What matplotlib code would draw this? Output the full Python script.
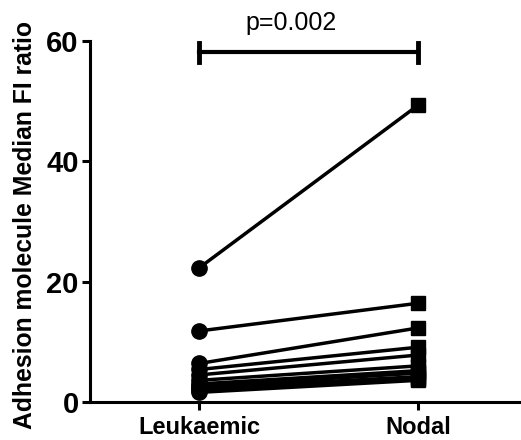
import matplotlib.pyplot as plt

plt.rcParams['font.family'] = ['Liberation Sans', 'DejaVu Sans']

groups = ['Leukaemic', 'Nodal']
leukaemic = [22.3, 11.8, 6.4, 5.4, 4.5, 3.6, 3.0, 2.6, 2.3, 2.0, 1.6]
nodal = [49.3, 16.4, 12.3, 9.1, 7.8, 6.0, 5.2, 4.8, 4.2, 3.8, 3.6]
p_text = 'p=0.002'
p_bar_y = 58.1

fig = plt.figure(figsize=(5.21, 4.4), dpi=100)
ax = fig.add_axes([0.1727, 0.0864, 0.8273, 0.821])

x = [0, 1]
for a, b in zip(leukaemic, nodal):
    ax.plot(x, [a, b], color='black', lw=2.5, zorder=2)
ax.plot([0] * len(leukaemic), leukaemic, 'o', color='black', ms=11, zorder=3, clip_on=False)
ax.plot([1] * len(nodal), nodal, 's', color='black', ms=10.5, zorder=3, clip_on=False)

# significance bar
ax.plot([0, 1], [p_bar_y, p_bar_y], color='black', lw=3, clip_on=False)
ax.plot([0, 0], [p_bar_y - 1.6, p_bar_y + 1.6], color='black', lw=3.5, clip_on=False)
ax.plot([1, 1], [p_bar_y - 1.6, p_bar_y + 1.6], color='black', lw=3.5, clip_on=False)
ax.text(0.42, 60.9, p_text, ha='center', va='bottom', fontsize=18)

ax.set_xlim(-0.5, 1.47)
ax.set_ylim(0, 60)
ax.set_xticks(x)
ax.set_xticklabels(groups, fontsize=17, fontweight='bold')
ax.set_yticks([0, 20, 40, 60])
ax.set_yticklabels(['0', '20', '40', '60'], fontsize=21, fontweight='bold')
ax.set_ylabel('Adhesion molecule Median FI ratio', fontsize=17.8, fontweight='bold')
ax.yaxis.set_label_coords(-0.124, 0.49)

for s in ['top', 'right']:
    ax.spines[s].set_visible(False)
for s in ['left', 'bottom']:
    ax.spines[s].set_linewidth(2.2)
ax.tick_params(width=2.2, length=6, pad=2)
ax.tick_params(axis='x', pad=4)

fig.savefig('out.png', dpi=100)
